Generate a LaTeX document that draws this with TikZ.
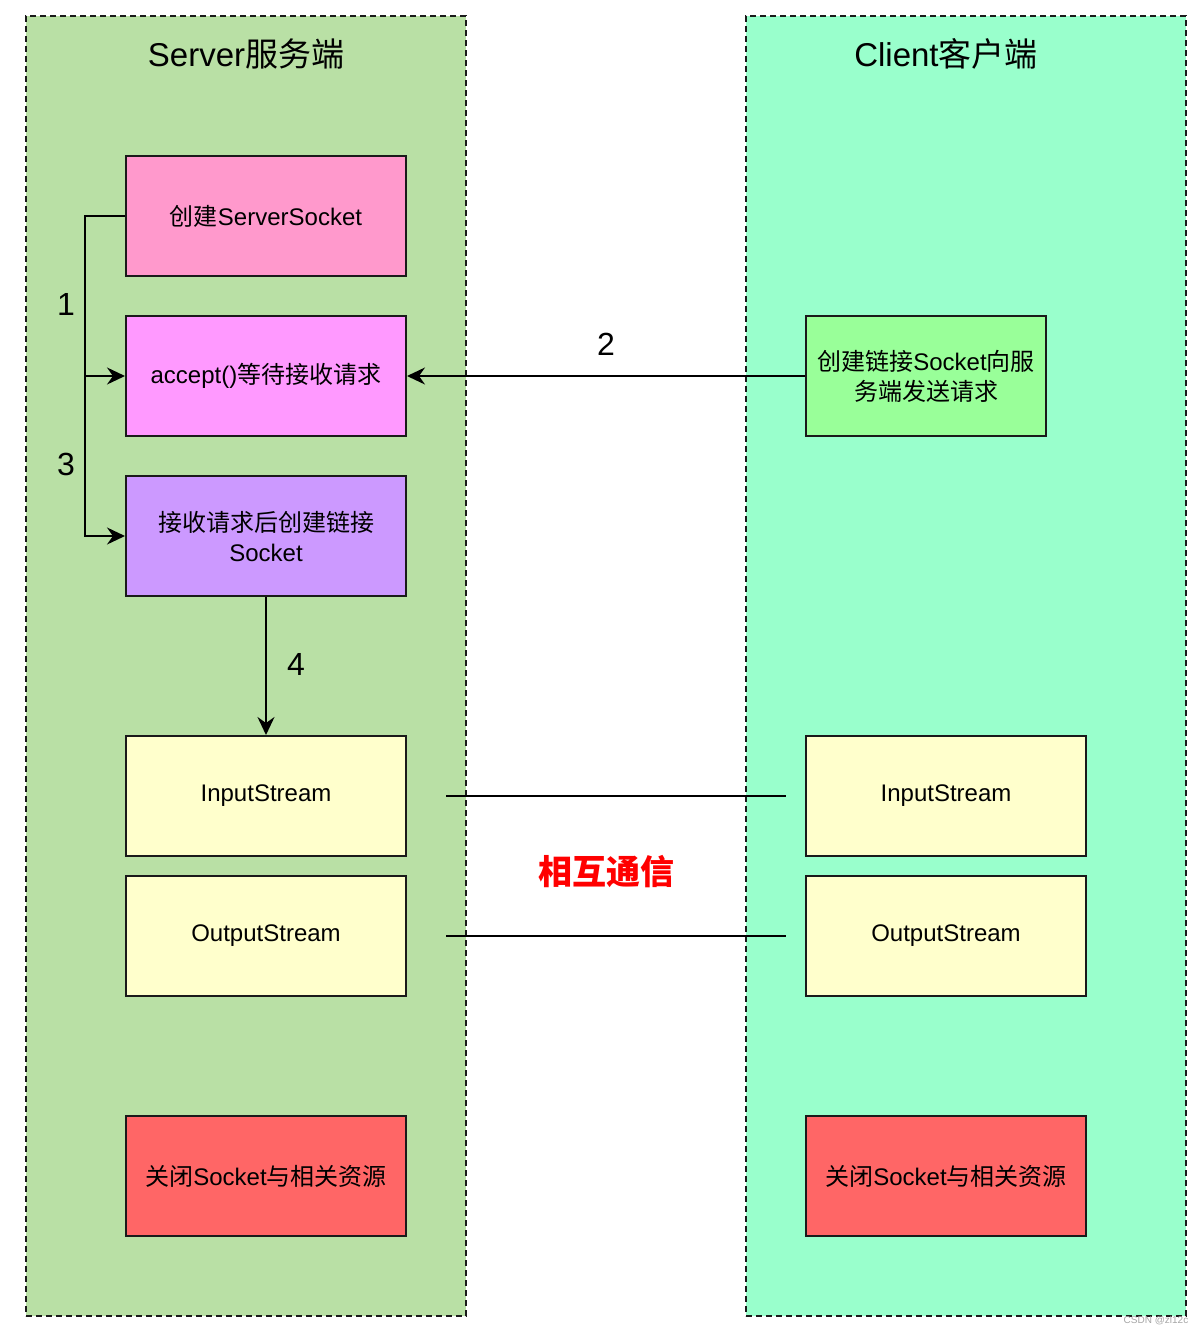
\documentclass[tikz,border=0pt]{standalone}
\usepackage{fontspec}
\setmainfont{Liberation Sans}
\newfontfamily\cjk{Noto Sans CJK SC}
\newcommand\zh[1]{{\cjk #1}}
\usetikzlibrary{arrows.meta}
\definecolor{srvbg}{HTML}{B9E0A5}
\definecolor{clibg}{HTML}{99FFCC}
\definecolor{pinkA}{HTML}{FF99CC}
\definecolor{pinkB}{HTML}{FF99FF}
\definecolor{violetC}{HTML}{CC99FF}
\definecolor{greenD}{HTML}{99FF99}
\definecolor{yellowE}{HTML}{FFFFCC}
\definecolor{redF}{HTML}{FF6666}
\definecolor{edgeC}{HTML}{1A1A1A}
\begin{document}
\begin{tikzpicture}[x=0.5pt,y=-0.5pt,
  container/.style={draw=edgeC, line width=1pt, dash pattern=on 3pt off 2pt, minimum width=220pt, minimum height=650pt, inner sep=0pt},
  box/.style={draw=edgeC, line width=1pt, minimum width=140pt, minimum height=60pt, inner sep=2pt, align=center, font=\fontsize{12pt}{15pt}\selectfont},
  title/.style={font=\fontsize{16.5pt}{20pt}\selectfont},
  num/.style={font=\fontsize{16pt}{19pt}\selectfont},
  conn/.style={draw=black, line width=1pt},
  arr/.style={conn, -{Stealth[length=9pt, width=8.5pt, inset=3pt]}}
]
\useasboundingbox (0,0) rectangle (1204,1334);
% containers
\node[container, fill=srvbg] (srv) at (246,666) {};
\node[container, fill=clibg] (cli) at (966,666) {};
\node[title] (srvt) at (246,54) {Server\zh{服务端}};
\node[title] (clit) at (946,54) {Client\zh{客户端}};
% server boxes
\node[box, fill=pinkA] (b1) at (266,216) {\zh{创建}ServerSocket};
\node[box, fill=pinkB] (acc) at (266,376) {accept()\zh{等待接收请求}};
\node[box, fill=violetC] (b3) at (266,536) {\zh{接收请求后创建链接}\\Socket};
\node[box, fill=yellowE] (sin) at (266,796) {InputStream};
\node[box, fill=yellowE] (sout) at (266,936) {OutputStream};
\node[box, fill=redF] (sclose) at (266,1176) {\zh{关闭}Socket\zh{与相关资源}};
% client boxes
\node[box, fill=greenD, minimum width=120pt] (req) at (926,376) {\zh{创建链接}Socket\zh{向服}\\\zh{务端发送请求}};
\node[box, fill=yellowE] (cin) at (946,796) {InputStream};
\node[box, fill=yellowE] (cout) at (946,936) {OutputStream};
\node[box, fill=redF] (cclose) at (946,1176) {\zh{关闭}Socket\zh{与相关资源}};
% connectors
\draw[arr] (b1.west) -- ++(-40,0) |- (acc.west);
\draw[arr] (b1.west) -- ++(-40,0) |- (b3.west);
\node[num] (n1) at (66,304) {1};
\node[num] (n3) at (66,464) {3};
\draw[arr] (req.west) -- (acc.east);
\node[num] (n2) at (606,344) {2};
\draw[arr] (b3.south) -- (sin.north);
\node[num] (n4) at (296,664) {4};
\coordinate (l1a) at (446,796);
\coordinate (l1b) at (786,796);
\coordinate (l2a) at (446,936);
\coordinate (l2b) at (786,936);
\draw[conn] (l1a) -- (l1b);
\draw[conn] (l2a) -- (l2b);
\node[text=red, font=\fontsize{17pt}{20pt}\selectfont\cjk\bfseries] (mid) at (606,872) {相互通信};
\node[text=gray!70, font=\fontsize{5pt}{6pt}\selectfont] (wm) at (1156,1321) {CSDN @zl12c};
\end{tikzpicture}
\end{document}
